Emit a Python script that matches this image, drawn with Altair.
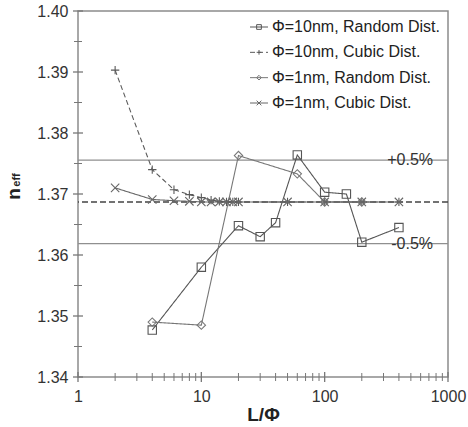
import altair as alt
import pandas as pd

# Series names (legend order)
SERIES = ["Φ=10nm, Random Dist.", "Φ=10nm, Cubic Dist.",
          "Φ=1nm, Random Dist.", "Φ=1nm, Cubic Dist."]

# Φ=10nm, random distribution
L_rand10 = [4, 10, 20, 30, 40, 60, 100, 150, 200, 400]
n_rand10 = [1.3477, 1.3580, 1.3648, 1.3630, 1.3653, 1.3764, 1.3703, 1.3700, 1.3621, 1.3645]

# Φ=10nm, cubic distribution
L_cub10 = [2, 4, 6, 8, 10, 12, 14, 16, 18, 20, 50, 100, 200, 400]
n_cub10 = [1.3903, 1.3740, 1.3707, 1.3699, 1.3694, 1.3690, 1.3688, 1.3687, 1.3687,
           1.3687, 1.3687, 1.3687, 1.3687, 1.3687]

# Φ=1nm, random distribution
L_rand1 = [4, 10, 20, 60, 100, 200]
n_rand1 = [1.3490, 1.3485, 1.3763, 1.3733, 1.3687, 1.3687]

# Φ=1nm, cubic distribution
L_cub1 = [2, 4, 6, 8, 10, 12, 14, 16, 18, 20, 50, 100, 200, 400]
n_cub1 = [1.3710, 1.3691, 1.3689, 1.3688, 1.3687, 1.3687, 1.3687, 1.3687, 1.3687,
          1.3687, 1.3687, 1.3687, 1.3687, 1.3687]

# Bulk effective index and the ±0.5 % band around it
n_bulk = 1.3687
band = 0.005

# Axis tick positions
x_major = [1, 10, 100, 1000]
x_minor = [m * d for d in (1, 10, 100) for m in range(2, 10)]
y_major = [1.34, 1.35, 1.36, 1.37, 1.38, 1.39, 1.40]
y_minor = [1.345, 1.355, 1.365, 1.375, 1.385, 1.395]

FONT = "Liberation Sans"
W, H = 370, 366

rows = []
for name, xs, ys in zip(SERIES, [L_rand10, L_cub10, L_rand1, L_cub1],
                        [n_rand10, n_cub10, n_rand1, n_cub1]):
    rows += [{"series": name, "L": x, "n": y} for x, y in zip(xs, ys)]
df = pd.DataFrame(rows)

ref = pd.DataFrame({
    "n": [n_bulk * (1 + band), n_bulk * (1 - band)],
    "label": ["+0.5%", "-0.5%"],
    "dy": [-15, 17],
})
bulk = pd.DataFrame({"n": [n_bulk]})

x_scale = alt.Scale(type="log", domain=[1, 1000], nice=False)
y_scale = alt.Scale(domain=[1.34, 1.40], nice=False, zero=False)

shape_scale = alt.Scale(
    domain=SERIES,
    range=["square", "M-1,0H1M0,-1V1", "diamond", "M-1,-1L1,1M-1,1L1,-1"],
)
dash_scale = alt.Scale(domain=SERIES, range=[[1, 0], [5, 3], [1, 0], [1, 0]])
color_scale = alt.Scale(domain=SERIES, range=["#555555", "#5a5a5a", "#777777", "#666666"])
size_scale = alt.Scale(domain=SERIES, range=[70, 70, 45, 50])

x_axis = alt.Axis(values=x_major, format="d", ticks=False, domain=False, grid=False,
                  labelFontSize=16, labelFont=FONT, labelColor="#333333", labelPadding=11,
                  labelFlush=False, title="L/Φ", titleFont=FONT, titleFontSize=19,
                  titleFontWeight="bold", titleColor="#222222", titlePadding=1)
y_axis = alt.Axis(values=y_major, format=".2f", ticks=False, domain=False, grid=False,
                  labelFontSize=16, labelFont=FONT, labelColor="#333333", labelPadding=10,
                  labelFlush=False, title=None)

X = alt.X("L:Q", scale=x_scale, axis=x_axis)
Y = alt.Y("n:Q", scale=y_scale, axis=y_axis)
Yn = alt.Y("n:Q", scale=y_scale, axis=y_axis)

# ±0.5 % band lines and their labels
band_lines = alt.Chart(ref).mark_rule(color="#8f8f8f", strokeWidth=1.2).encode(y=Yn)
band_text = alt.Chart(ref).mark_text(
    align="right", baseline="middle", font=FONT, fontSize=16, color="#333333"
).encode(
    x=alt.value(355), y=Yn, text="label:N",
    yOffset=alt.YOffset("dy:Q", scale=None),
)
bulk_line = alt.Chart(bulk).mark_rule(
    color="#444444", strokeWidth=1.6, strokeDash=[6, 3]
).encode(y=Yn)

# Data lines and markers
lines = alt.Chart(df).mark_line(strokeWidth=1.1).encode(
    x=X, y=Y,
    detail="series:N",
    color=alt.Color("series:N", scale=color_scale, legend=None),
    strokeDash=alt.StrokeDash("series:N", scale=dash_scale, legend=None),
)
points = alt.Chart(df).mark_point(filled=False, strokeWidth=1.1, opacity=1).encode(
    x=X, y=Y,
    shape=alt.Shape("series:N", scale=shape_scale, legend=None),
    color=alt.Color("series:N", scale=color_scale, legend=None),
    size=alt.Size("series:N", scale=size_scale, legend=None),
)

# Axis ticks crossing the frame
xt_minor = alt.Chart(pd.DataFrame({"L": x_minor})).mark_rule(color="#777777").encode(
    x=X, y=alt.value(H - 4), y2=alt.value(H + 4))
xt_major = alt.Chart(pd.DataFrame({"L": x_major})).mark_rule(color="#777777", strokeWidth=1.3).encode(
    x=X, y=alt.value(H - 5), y2=alt.value(H + 5))
yt_minor = alt.Chart(pd.DataFrame({"n": y_minor})).mark_rule(color="#777777").encode(
    y=Yn, x=alt.value(-4), x2=alt.value(4))
yt_major = alt.Chart(pd.DataFrame({"n": y_major})).mark_rule(color="#777777", strokeWidth=1.3).encode(
    y=Yn, x=alt.value(-5), x2=alt.value(5))

# y-axis title n_eff with subscript
ytitle_n = alt.Chart(bulk).mark_text(
    text="n", angle=270, font=FONT, fontSize=19, fontWeight="bold", color="#222222",
    baseline="middle", align="center",
).encode(x=alt.value(-64), y=alt.value(183))
ytitle_sub = alt.Chart(bulk).mark_text(
    text="eff", angle=270, font=FONT, fontSize=11, fontWeight="bold", color="#222222",
    baseline="middle", align="center",
).encode(x=alt.value(-61), y=alt.value(169))

main = alt.layer(
    band_lines, band_text, bulk_line, lines, points,
    xt_minor, xt_major, yt_minor, yt_major, ytitle_n, ytitle_sub,
)

# Legend block in the upper right corner
leg = pd.DataFrame({"series": SERIES, "row": [0, 1, 2, 3]})
leg_y = alt.Y("row:Q", scale=alt.Scale(domain=[0, 3], range=[16, 92]), axis=None)
leg_lines = alt.Chart(leg).mark_rule(strokeWidth=1).encode(
    y=leg_y, x=alt.value(172), x2=alt.value(190),
    color=alt.Color("series:N", scale=color_scale, legend=None),
    strokeDash=alt.StrokeDash("series:N", scale=dash_scale, legend=None),
)
leg_points = alt.Chart(leg).mark_point(filled=False, strokeWidth=1, size=22, opacity=1).encode(
    y=leg_y, x=alt.value(181),
    shape=alt.Shape("series:N", scale=shape_scale, legend=None),
    color=alt.Color("series:N", scale=color_scale, legend=None),
)
leg_text = alt.Chart(leg).mark_text(
    align="left", baseline="middle", font=FONT, fontSize=16, color="#222222"
).encode(y=leg_y, x=alt.value(194), text="series:N")
legend = alt.layer(leg_lines, leg_points, leg_text)

chart = alt.layer(main, legend).resolve_scale(y="independent").properties(
    width=W, height=H,
    padding={"left": 78, "top": 11, "right": 20, "bottom": 50},
    autosize=alt.AutoSizeParams(type="none"),
    background="white",
).configure_view(stroke="#8c8c8c", strokeWidth=1.5)

chart.save("out.html", embed_options={"renderer": "svg", "actions": False})
